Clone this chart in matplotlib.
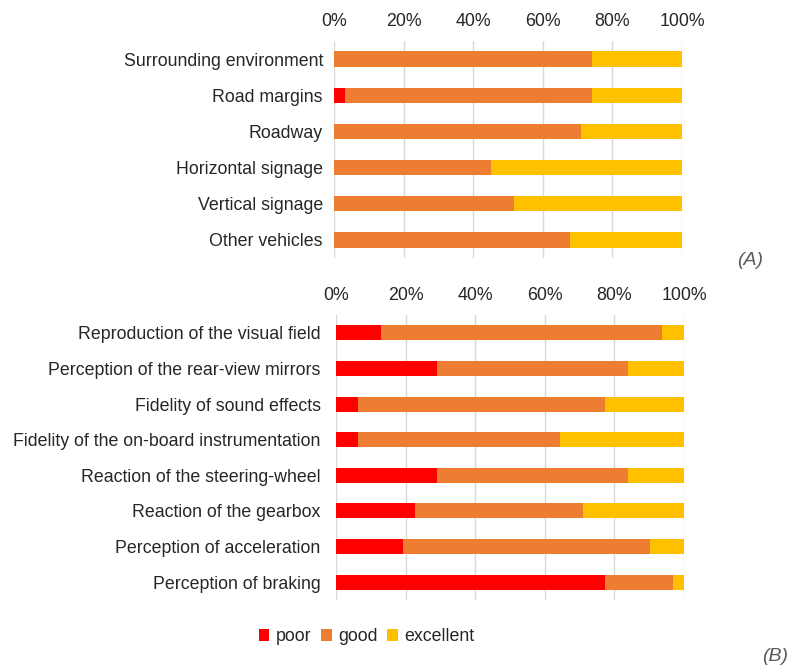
import numpy as np
import matplotlib
matplotlib.use("Agg")
import matplotlib.pyplot as plt
from matplotlib.ticker import PercentFormatter

plt.rcParams['font.family'] = ['Liberation Sans', 'DejaVu Sans']

# ---------------- data (counts of answers, 31 respondents) ----------------
series = ["poor", "good", "excellent"]
colors = ["#FF0000", "#ED7D31", "#FFC000"]

cats_a = ["Surrounding environment", "Road margins", "Roadway",
          "Horizontal signage", "Vertical signage", "Other vehicles"]
poor_a = [0, 1, 0, 0, 0, 0]
good_a = [23, 22, 22, 14, 16, 21]
exc_a = [8, 8, 9, 17, 15, 10]

cats_b = ["Reproduction of the visual field",
          "Perception of the rear-view mirrors",
          "Fidelity of sound effects",
          "Fidelity of the on-board instrumentation",
          "Reaction of the steering-wheel",
          "Reaction of the gearbox",
          "Perception of acceleration",
          "Perception of braking"]
poor_b = [4, 9, 2, 2, 9, 7, 6, 24]
good_b = [25, 17, 22, 18, 17, 15, 22, 6]
exc_b = [2, 5, 7, 11, 5, 9, 3, 1]

TXT = "#262626"
FS = 12.8


def panel(ax, cats, vals, ypad):
    vals = np.array(vals, dtype=float)
    pct = vals / vals.sum(axis=0) * 100
    y = np.arange(len(cats))
    left = np.zeros(len(cats))
    handles = []
    for i, name in enumerate(series):
        h = ax.barh(y, pct[i], left=left, height=0.42, color=colors[i],
                    label=name, zorder=3, linewidth=0)
        handles.append(h)
        left += pct[i]
    ax.set_yticks(y)
    ax.set_yticklabels(cats, fontsize=FS, color=TXT)
    ax.set_ylim(len(cats) - 0.5, -0.5)
    ax.set_xlim(0, 100)
    ax.set_xticks(np.arange(0, 101, 20))
    ax.xaxis.set_major_formatter(PercentFormatter(decimals=0))
    ax.xaxis.tick_top()
    ax.tick_params(axis='x', labelsize=FS, colors=TXT, length=0, pad=8)
    ax.tick_params(axis='y', length=0, pad=ypad)
    ax.grid(axis='x', color="#d9d9d9", linewidth=1, zorder=0)
    for s in ax.spines.values():
        s.set_visible(False)
    return handles


fig = plt.figure(figsize=(7.9, 6.71), dpi=100)
ax_a = fig.add_axes([0.4228, 0.6155, 0.4405, 0.3234])
ax_b = fig.add_axes([0.4253, 0.1058, 0.4405, 0.4248])

panel(ax_a, cats_a, [poor_a, good_a, exc_a], 8)
handles = panel(ax_b, cats_b, [poor_b, good_b, exc_b], 11)

fig.text(0.966, 0.6125, "(A)", fontsize=14, style='italic', color="#595959",
         ha='right', va='center')
fig.text(0.998, 0.0209, "(B)", fontsize=14, style='italic', color="#595959",
         ha='right', va='center')

fig.legend(handles=handles, labels=series, loc='center',
           bbox_to_anchor=(0.464, 0.051), ncol=3, frameon=False,
           fontsize=FS, handlelength=0.6, handleheight=0.6,
           handletextpad=0.35, columnspacing=0.55, labelcolor=TXT)

fig.savefig("out.png", dpi=100)
